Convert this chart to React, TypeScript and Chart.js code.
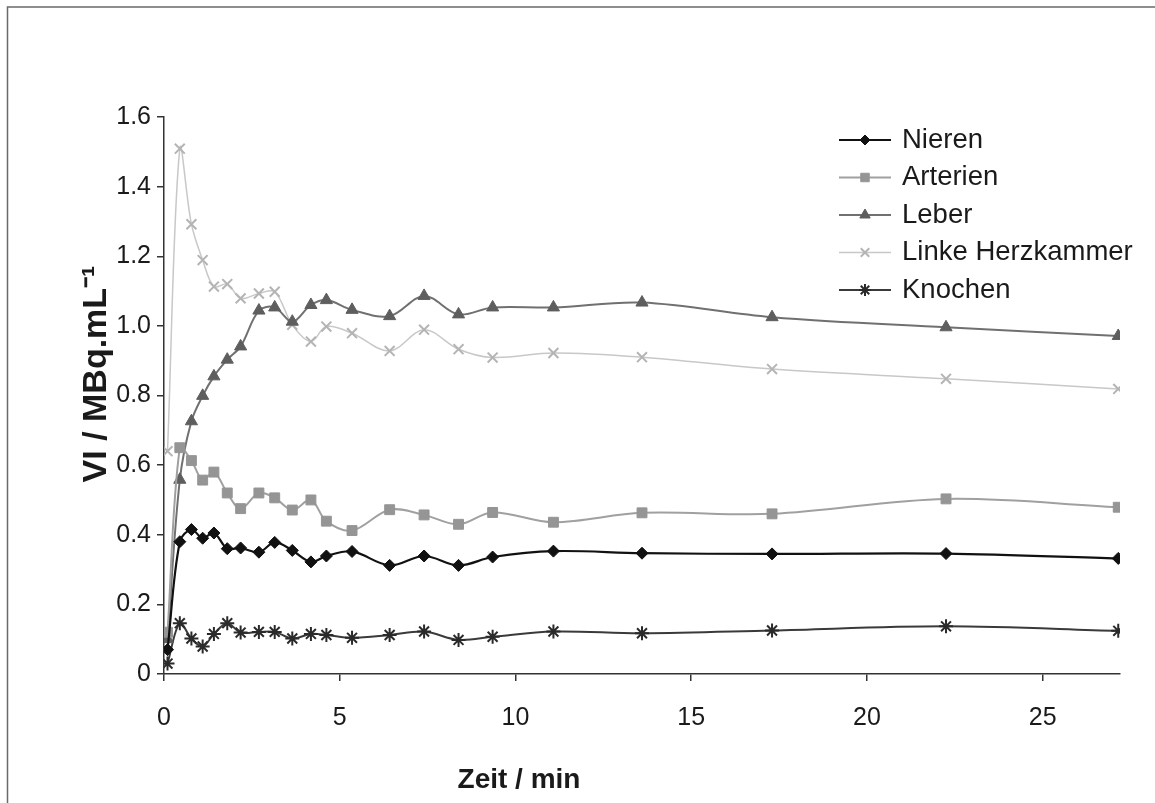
import React, { useEffect, useRef } from 'react';
import { Chart, registerables } from 'chart.js';
import { drawPoint } from 'chart.js/helpers';

Chart.register(...registerables);

const times = [0.1, 0.45, 0.78, 1.1, 1.42, 1.8, 2.18, 2.7, 3.15, 3.65, 4.18, 4.62, 5.35, 6.42, 7.4, 8.38, 9.35, 11.08, 13.6, 17.3, 22.25, 27.15];
const nieren = [0.07, 0.38, 0.415, 0.39, 0.405, 0.36, 0.362, 0.35, 0.378, 0.355, 0.322, 0.339, 0.352, 0.312, 0.339, 0.312, 0.336, 0.353, 0.347, 0.345, 0.346, 0.332];
const arterien = [0.12, 0.65, 0.613, 0.557, 0.58, 0.52, 0.475, 0.52, 0.506, 0.471, 0.5, 0.439, 0.412, 0.472, 0.457, 0.43, 0.464, 0.436, 0.463, 0.46, 0.503, 0.479];
const leber = [0.1, 0.558, 0.726, 0.799, 0.855, 0.903, 0.941, 1.044, 1.053, 1.012, 1.06, 1.074, 1.046, 1.028, 1.086, 1.033, 1.053, 1.053, 1.067, 1.025, 0.996, 0.971];
const linkeHerzkammer = [0.64, 1.509, 1.292, 1.189, 1.113, 1.12, 1.079, 1.093, 1.098, 1.003, 0.955, 0.998, 0.979, 0.928, 0.989, 0.933, 0.909, 0.922, 0.91, 0.876, 0.848, 0.819];
const knochen = [0.03, 0.146, 0.102, 0.079, 0.115, 0.146, 0.119, 0.121, 0.121, 0.102, 0.115, 0.112, 0.104, 0.112, 0.122, 0.098, 0.107, 0.122, 0.117, 0.125, 0.137, 0.124];

const seriesNames = ['Nieren', 'Arterien', 'Leber', 'Linke Herzkammer', 'Knochen'];
const seriesValues = [nieren, arterien, leber, linkeHerzkammer, knochen];
const xTickValues = [0, 5, 10, 15, 20, 25];
const pointStyles = ['rectRot', 'rect', 'triangle', 'crossRot', 'star'];
const pointRadii = [6, 7, 7, 7, 7];
const lineColors = ['#111111', '#a0a0a0', '#707070', '#c8c8c8', '#3a3a3a'];
const markerColors = ['#111111', '#959595', '#5e5e5e', '#b4b4b4', '#2a2a2a'];
const lineWidths = [2.2, 2, 2, 1.5, 2];

const xTitle = 'Zeit / min';
const yTitle = 'VI / MBq.mL⁻¹';
const FONT = '"Liberation Sans", Arial, Helvetica, sans-serif';

const framePlugin = {
  id: 'frame',
  beforeDraw(chart: any) {
    const ctx = chart.ctx;
    ctx.save();
    ctx.fillStyle = '#ffffff';
    ctx.fillRect(0, 0, chart.width, chart.height);
    ctx.strokeStyle = '#6a6a6a';
    ctx.lineWidth = 1.5;
    ctx.strokeRect(7.5, 7, chart.width + 20, chart.height + 20);
    ctx.restore();
  },
};

const titlesPlugin = {
  id: 'axisTitles',
  afterDraw(chart: any) {
    const ctx = chart.ctx;
    ctx.save();
    ctx.fillStyle = '#1a1a1a';
    ctx.textAlign = 'center';
    ctx.textBaseline = 'middle';
    ctx.font = `bold 28px ${FONT}`;
    ctx.fillText(xTitle, 519, 780);
    ctx.translate(97, 374);
    ctx.rotate(-Math.PI / 2);
    ctx.font = `bold 34px ${FONT}`;
    ctx.fillText(yTitle, 0, 0);
    ctx.restore();
  },
};

const legendPlugin = {
  id: 'customLegend',
  afterDraw(chart: any) {
    const ctx = chart.ctx;
    ctx.save();
    chart.data.datasets.forEach((ds: any, i: number) => {
      const y = 140 + i * 37.5;
      ctx.strokeStyle = ds.borderColor;
      ctx.lineWidth = ds.borderWidth;
      ctx.beginPath();
      ctx.moveTo(839, y);
      ctx.lineTo(891, y);
      ctx.stroke();
      ctx.fillStyle = ds.pointBackgroundColor;
      ctx.strokeStyle = ds.pointBorderColor;
      ctx.lineWidth = ds.pointBorderWidth;
      drawPoint(ctx, { pointStyle: ds.pointStyle, radius: ds.pointRadius - 1, borderWidth: ds.pointBorderWidth, rotation: 0 } as any, 865, y);
      ctx.fillStyle = '#1a1a1a';
      ctx.font = `27.5px ${FONT}`;
      ctx.textBaseline = 'middle';
      ctx.textAlign = 'left';
      ctx.fillText(ds.label, 902, y);
    });
    ctx.restore();
  },
};

export default function App() {
  const ref = useRef<HTMLCanvasElement>(null);
  useEffect(() => {
    document.body.style.margin = '0';
    Chart.defaults.font.family = FONT;
    Chart.defaults.color = '#1a1a1a';
    const datasets = seriesNames.map((name, i) => ({
      label: name,
      data: times.map((t, j) => ({ x: t, y: seriesValues[i][j] })),
      borderColor: lineColors[i],
      borderWidth: lineWidths[i],
      pointStyle: pointStyles[i],
      pointRadius: pointRadii[i],
      pointBackgroundColor: markerColors[i],
      pointBorderColor: markerColors[i],
      pointBorderWidth: i >= 3 ? 2 : 1,
      tension: 0.35,
      fill: false,
    }));
    const chart = new Chart(ref.current as HTMLCanvasElement, {
      type: 'line',
      data: { datasets },
      plugins: [framePlugin, legendPlugin, titlesPlugin],
      options: {
        responsive: false,
        animation: false,
        events: [],
        layout: { padding: { left: 0, top: 117, right: 35, bottom: 0 } },
        plugins: { legend: { display: false }, tooltip: { enabled: false } },
        scales: {
          x: {
            type: 'linear',
            min: 0,
            max: 27.2,
            afterFit(scale: any) { scale.height = 803 - 674; },
            afterBuildTicks(scale: any) { scale.ticks = xTickValues.map((v) => ({ value: v })); },
            ticks: { font: { size: 25 }, padding: 22, maxRotation: 0, autoSkip: false, color: '#1a1a1a' },
            grid: { drawOnChartArea: false, drawTicks: true, tickLength: 7, color: '#333333', lineWidth: 1.5 },
            border: { display: true, color: '#333333', width: 1.5 },
            title: { display: false },
          },
          y: {
            type: 'linear',
            min: 0,
            max: 1.6,
            afterFit(scale: any) { scale.width = 164; },
            ticks: {
              stepSize: 0.2,
              font: { size: 25 },
              padding: 6,
              color: '#1a1a1a',
              callback: (v: any) => (Math.abs(v) < 1e-9 ? '0' : Number(v).toFixed(1)),
            },
            grid: { drawOnChartArea: false, drawTicks: true, tickLength: 7, color: '#333333', lineWidth: 1.5 },
            border: { display: true, color: '#333333', width: 1.5 },
            title: { display: false },
          },
        },
      } as any,
    });
    return () => chart.destroy();
  }, []);
  return <canvas ref={ref} width={1155} height={803} style={{ display: 'block' }} />;
}
